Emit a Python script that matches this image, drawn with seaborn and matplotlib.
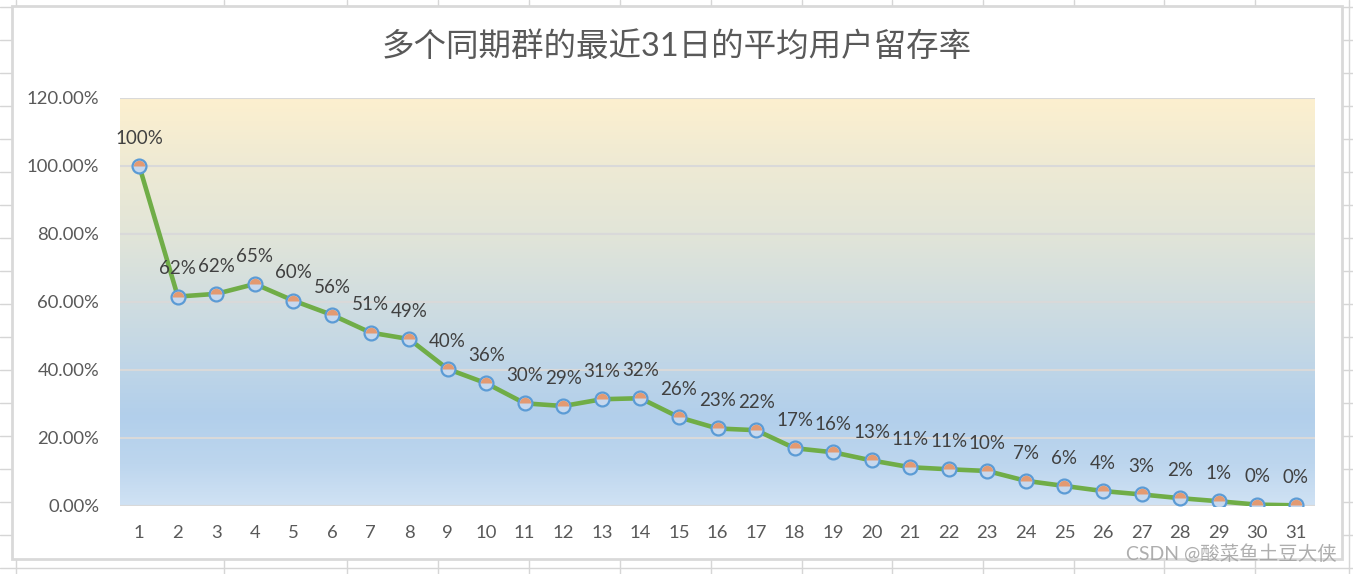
import numpy as np
import matplotlib
matplotlib.use("Agg")
import matplotlib.pyplot as plt
from matplotlib.colors import LinearSegmentedColormap
from matplotlib.patches import Rectangle
import seaborn as sns

# data: average retention (%) for day 1..31
days = list(range(1, 32))
retention = [100, 61.6, 62.4, 65.3, 60.4, 56.2, 51.0, 49.1, 40.3, 36.1,
             30.2, 29.4, 31.4, 31.7, 26.1, 22.8, 22.3, 17.0, 15.8, 13.4,
             11.4, 10.8, 10.3, 7.4, 5.9, 4.4, 3.4, 2.3, 1.4, 0.4, 0.2]
y_ticks = [0, 20, 40, 60, 80, 100, 120]
title = "多个同期群的最近31日的平均用户留存率"
watermark = "CSDN @酸菜鱼土豆大侠"

sns.set_theme(style="white")
plt.rcParams["font.family"] = ["Lato", "Noto Sans CJK SC", "DejaVu Sans"]

W, H = 1353, 574
fig = plt.figure(figsize=(W / 100, H / 100), dpi=100)

# --- spreadsheet background with cell lines ---
bg = fig.add_axes([0, 0, 1, 1], zorder=0)
bg.set_xlim(0, W)
bg.set_ylim(H, 0)
bg.axis("off")
for cx in [16, 224, 347, 438, 529, 620, 711, 802, 892, 983, 1074, 1164, 1255, 1349]:
    bg.axvline(cx, color="#D6D6D6", lw=1)
for ry in range(7, H, 33):
    bg.axhline(ry, color="#D6D6D6", lw=1)
bg.add_patch(Rectangle((12, 6), 1330, 553, facecolor="white",
                       edgecolor="#D9D9D9", lw=2, zorder=3))

# --- chart ---
ax = fig.add_axes([120 / W, 1 - 506 / H, 1195 / W, 408 / H], zorder=2)
ax.patch.set_alpha(0)

stops = [(0.0, "#D0E2F4"), (0.1, "#BDD6EE"), (0.22, "#B2CFEB"), (0.35, "#C0D6E7"),
         (0.5, "#D0DDE0"), (0.67, "#E2E5D8"), (0.83, "#EEEAD4"), (1.0, "#FDF0CF")]
cmap = LinearSegmentedColormap.from_list("bg", stops)
grad = np.linspace(0, 1, 256).reshape(-1, 1)
ax.imshow(grad, cmap=cmap, origin="lower", aspect="auto",
          extent=[0.5, 31.5, 0, 120], zorder=0)

for t in y_ticks:
    ax.axhline(t, color="#D9D9D9", lw=1.5, zorder=1)

# line + blue-rimmed markers
sns.lineplot(x=days, y=retention, ax=ax, color="#70AD47", linewidth=3.3,
             marker="o", markersize=10, markerfacecolor="#C6D8EE",
             markeredgecolor="#5B9BD5", markeredgewidth=1.6, zorder=3)
# orange upper half of the marker fill
sns.lineplot(x=days, y=retention, ax=ax, linestyle="", marker="o",
             markersize=8.2, fillstyle="top", markerfacecolor="#E39A72",
             markerfacecoloralt="none", markeredgewidth=0, zorder=3.5)

for d, v in zip(days, retention):
    ax.annotate(f"{int(np.floor(v + 0.5))}%", (d, v), xytext=(0, 20),
                textcoords="offset points", ha="center", va="center",
                fontsize=13.5, color="#404040", zorder=4)

ax.set_xlim(0.5, 31.5)
ax.set_ylim(0, 120)
ax.set_xticks(days)
ax.set_yticks(y_ticks)
ax.set_yticklabels([f"{t:.2f}%" for t in y_ticks])
ax.tick_params(axis="both", length=0, labelsize=13.3, colors="#595959")
ax.tick_params(axis="x", pad=14)
ax.tick_params(axis="y", pad=15)
for s in ax.spines.values():
    s.set_visible(False)
ax.set_xlabel("")
ax.set_ylabel("")

fig.text(677 / W, 1 - 47 / H, title, ha="center", va="center",
         fontsize=23.4, color="#595959")
fig.text(1337 / W, 1 - 553 / H, watermark, ha="right", va="center",
         fontsize=14, color="#A0A0A0", alpha=0.85, zorder=5)

fig.savefig("out.png", dpi=100)
